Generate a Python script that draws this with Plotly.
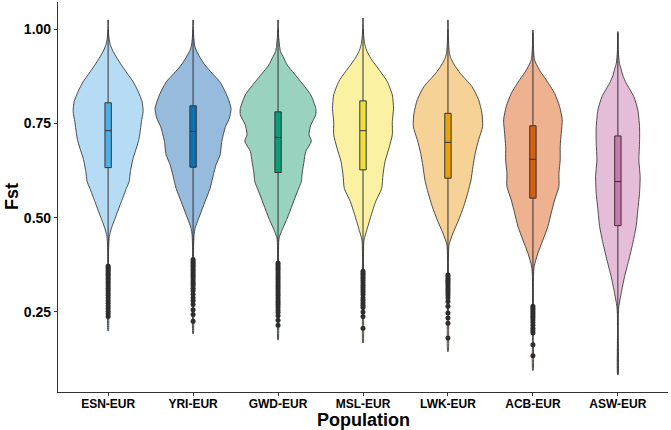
import plotly.graph_objects as go

# populations and colours (Okabe-Ito style)
populations = ["ESN-EUR", "YRI-EUR", "GWD-EUR", "MSL-EUR", "LWK-EUR", "ACB-EUR", "ASW-EUR"]
box_colors = ["#4eb0e6", "#0a73b8", "#0b9e74", "#eee040", "#e8a20a", "#d66010", "#cc78ab"]
violin_colors = ["#b5dcf4", "#96bbdd", "#99d3bf", "#faf2a2", "#f6d296", "#efb290", "#e6bdd8"]

# box stats
q1 = [0.633, 0.634, 0.620, 0.627, 0.605, 0.552, 0.479]
median = [0.731, 0.729, 0.713, 0.731, 0.700, 0.655, 0.596]
q3 = [0.805, 0.797, 0.781, 0.810, 0.777, 0.744, 0.717]
lower_whisker = [0.380, 0.395, 0.385, 0.362, 0.352, 0.270, 0.085]
upper_whisker = [1.000, 1.000, 1.000, 1.000, 1.000, 0.990, 0.990]

# violin density profiles: Fst level and half width (category units)
esn_fst = [1.025, 0.985, 0.96, 0.941, 0.923, 0.905, 0.883, 0.861, 0.835, 0.808, 0.782, 0.755, 0.711,
           0.685, 0.658, 0.622, 0.596, 0.578, 0.543, 0.508, 0.472, 0.45, 0.42, 0.30, 0.20]
esn_width = [0.003, 0.006, 0.024, 0.059, 0.106, 0.157, 0.224, 0.294, 0.353, 0.400, 0.412, 0.392, 0.365,
             0.333, 0.294, 0.262, 0.247, 0.215, 0.156, 0.098, 0.039, 0.014, 0.006, 0.004, 0.003]

yri_fst = [1.025, 0.985, 0.958, 0.945, 0.925, 0.905, 0.883, 0.861, 0.826, 0.79, 0.764, 0.745, 0.738,
           0.703, 0.667, 0.641, 0.614, 0.578, 0.543, 0.508, 0.472, 0.455, 0.42, 0.30, 0.192]
yri_width = [0.003, 0.006, 0.018, 0.035, 0.082, 0.141, 0.224, 0.314, 0.396, 0.447, 0.427, 0.388, 0.376,
             0.338, 0.318, 0.271, 0.239, 0.200, 0.141, 0.082, 0.024, 0.012, 0.006, 0.004, 0.003]

gwd_fst = [1.025, 0.985, 0.955, 0.941, 0.925, 0.905, 0.883, 0.861, 0.826, 0.79, 0.773, 0.746, 0.72,
           0.703, 0.676, 0.649, 0.622, 0.596, 0.569, 0.534, 0.499, 0.463, 0.446, 0.42, 0.30, 0.176]
gwd_width = [0.003, 0.006, 0.018, 0.029, 0.065, 0.109, 0.188, 0.267, 0.385, 0.444, 0.444, 0.385, 0.365,
             0.392, 0.326, 0.306, 0.286, 0.274, 0.227, 0.168, 0.109, 0.039, 0.012, 0.006, 0.004, 0.003]

msl_fst = [1.03, 0.99, 0.963, 0.945, 0.923, 0.887, 0.861, 0.826, 0.79, 0.755, 0.72, 0.685, 0.649,
           0.614, 0.578, 0.543, 0.508, 0.472, 0.441, 0.41, 0.30, 0.168]
msl_width = [0.003, 0.006, 0.018, 0.041, 0.091, 0.208, 0.286, 0.345, 0.359, 0.345, 0.345, 0.306, 0.259,
             0.235, 0.220, 0.149, 0.098, 0.051, 0.012, 0.006, 0.004, 0.003]

lwk_fst = [1.025, 0.97, 0.935, 0.923, 0.905, 0.883, 0.848, 0.813, 0.777, 0.742, 0.707, 0.671, 0.636,
           0.60, 0.565, 0.530, 0.494, 0.459, 0.428, 0.40, 0.30, 0.145]
lwk_width = [0.003, 0.006, 0.018, 0.035, 0.076, 0.145, 0.282, 0.361, 0.400, 0.408, 0.361, 0.321, 0.294,
             0.271, 0.232, 0.185, 0.126, 0.059, 0.012, 0.006, 0.004, 0.003]

acb_fst = [0.998, 0.95, 0.92, 0.91, 0.89, 0.866, 0.83, 0.795, 0.76, 0.724, 0.689, 0.653, 0.618,
           0.583, 0.547, 0.512, 0.477, 0.441, 0.406, 0.371, 0.344, 0.31, 0.20, 0.095]
acb_width = [0.003, 0.006, 0.018, 0.035, 0.082, 0.156, 0.255, 0.314, 0.345, 0.333, 0.321, 0.321, 0.306,
             0.306, 0.255, 0.215, 0.176, 0.118, 0.059, 0.015, 0.006, 0.005, 0.004, 0.003]

asw_fst = [0.994, 0.94, 0.91, 0.897, 0.877, 0.857, 0.821, 0.786, 0.742, 0.698, 0.653, 0.609, 0.565,
           0.521, 0.477, 0.433, 0.388, 0.344, 0.30, 0.265, 0.247, 0.20, 0.083]
asw_width = [0.003, 0.006, 0.018, 0.035, 0.059, 0.098, 0.188, 0.235, 0.255, 0.255, 0.247, 0.262, 0.255,
             0.235, 0.215, 0.176, 0.129, 0.079, 0.039, 0.012, 0.006, 0.004, 0.003]

# outliers
esn_out = [0.372, 0.368, 0.364, 0.36, 0.355, 0.35, 0.346, 0.341, 0.336, 0.33, 0.325, 0.319, 0.313,
           0.307, 0.30, 0.294, 0.287, 0.28, 0.273, 0.266, 0.259, 0.252, 0.245, 0.238]
yri_out = [0.389, 0.384, 0.379, 0.374, 0.369, 0.364, 0.359, 0.354, 0.349, 0.344, 0.338, 0.332, 0.326,
           0.32, 0.313, 0.306, 0.297, 0.288, 0.28, 0.27, 0.256, 0.243, 0.225]
gwd_out = [0.38, 0.375, 0.37, 0.365, 0.36, 0.354, 0.348, 0.342, 0.336, 0.33, 0.324, 0.318, 0.312,
           0.306, 0.30, 0.294, 0.288, 0.282, 0.276, 0.27, 0.263, 0.256, 0.249, 0.24, 0.228, 0.215]
msl_out = [0.358, 0.353, 0.348, 0.343, 0.338, 0.333, 0.327, 0.321, 0.315, 0.309, 0.303, 0.296,
           0.288, 0.281, 0.274, 0.268, 0.262, 0.25, 0.238, 0.207]
lwk_out = [0.349, 0.344, 0.339, 0.334, 0.329, 0.324, 0.319, 0.313, 0.307, 0.301, 0.295, 0.288,
           0.278, 0.265, 0.247, 0.234, 0.22, 0.181]
acb_out = [0.265, 0.26, 0.255, 0.25, 0.245, 0.24, 0.235, 0.229, 0.222, 0.215, 0.207, 0.2, 0.194,
           0.163, 0.134]
asw_out = []

profiles = [(esn_fst, esn_width), (yri_fst, yri_width), (gwd_fst, gwd_width), (msl_fst, msl_width),
            (lwk_fst, lwk_width), (acb_fst, acb_width), (asw_fst, asw_width)]
outliers = [esn_out, yri_out, gwd_out, msl_out, lwk_out, acb_out, asw_out]

x_range = [-0.59, 6.59]
y_range = [0.0376, 1.0724]

fig = go.Figure()

# violins on the base axes
for i, (fst, w) in enumerate(profiles):
    xs = [i + v for v in w] + [i - v for v in w[::-1]]
    ys = list(fst) + list(fst[::-1])
    fig.add_trace(go.Scatter(x=xs, y=ys, mode="lines", fill="toself",
                             fillcolor=violin_colors[i],
                             line=dict(color="#3a3a3a", width=0.9, shape="spline", smoothing=0.6),
                             hoverinfo="skip", showlegend=False))

# boxes + outliers on an overlaying pair of axes so they sit above the violins
for i in range(len(populations)):
    fig.add_trace(go.Box(x=[i], q1=[q1[i]], median=[median[i]], q3=[q3[i]],
                         lowerfence=[lower_whisker[i]], upperfence=[upper_whisker[i]],
                         orientation="v", width=0.075, whiskerwidth=0, fillcolor=box_colors[i],
                         line=dict(color="#333333", width=1), boxpoints=False,
                         name=populations[i], showlegend=False, xaxis="x2", yaxis="y2"))
    if outliers[i]:
        fig.add_trace(go.Scatter(x=[i] * len(outliers[i]), y=outliers[i], mode="markers",
                                 marker=dict(color="#2e2e2e", size=5),
                                 hoverinfo="skip", showlegend=False, xaxis="x2", yaxis="y2"))

fig.update_layout(
    width=671, height=430,
    margin=dict(l=58, r=3, t=2, b=38),
    plot_bgcolor="white", paper_bgcolor="white",
    font=dict(family="Liberation Sans, Arial, sans-serif", color="black"),
    showlegend=False,
    xaxis=dict(range=x_range, tickvals=list(range(len(populations))), ticktext=populations,
               showline=True, linecolor="#333333", linewidth=1.2, ticks="outside", ticklen=3,
               tickcolor="#333333", showgrid=False, zeroline=False, ticklabelstandoff=-3,
               tickfont=dict(size=12, weight="bold")),
    yaxis=dict(range=y_range, tickvals=[0.25, 0.5, 0.75, 1.0], tickformat=".2f",
               showline=True, linecolor="#333333", linewidth=1.2, ticks="outside", ticklen=3,
               tickcolor="#333333", showgrid=False, zeroline=False,
               tickfont=dict(size=14, weight="bold")),
    xaxis2=dict(range=x_range, overlaying="x", visible=False),
    yaxis2=dict(range=y_range, overlaying="y", visible=False),
    annotations=[
        dict(text="<b>Fst</b>", x=0, y=0.5, xref="paper", yref="paper", xanchor="center",
             yanchor="middle", xshift=-46, textangle=-90, showarrow=False, font=dict(size=18)),
        dict(text="<b>Population</b>", x=0.5, y=0, xref="paper", yref="paper", xanchor="center",
             yanchor="middle", yshift=-28, showarrow=False, font=dict(size=18)),
    ],
)

fig.write_html("out.html", config={"displayModeBar": False},
               post_script="document.body.style.margin='0';")
